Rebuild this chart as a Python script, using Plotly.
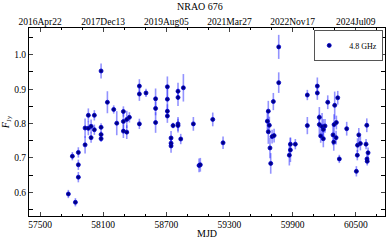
import plotly.graph_objects as go

mjd = [57769, 57807, 57836, 57864, 57864, 57864, 57928, 57928, 57959, 57959,
       57985, 57985, 58016, 58016, 58080, 58080, 58080, 58080, 58140, 58200,
       58229, 58292, 58292, 58292, 58324, 58324, 58349, 58444, 58444, 58444,
       58507, 58598, 58598, 58598, 58710, 58710, 58710, 58710, 58745, 58745,
       58745, 58764, 58811, 58811, 58811, 58811, 58837, 58862, 58957, 59011,
       59023, 59141, 59239, 59660, 59669, 59669, 59679, 59685, 59692, 59705,
       59717, 59724, 59768, 59768, 59869, 59879, 59879, 59926, 60040, 60040,
       60135, 60135, 60154, 60154, 60167, 60180, 60192, 60192, 60208, 60234,
       60284, 60291, 60294, 60300, 60313, 60316, 60329, 60344, 60414, 60506,
       60515, 60517, 60529, 60544, 60598, 60605, 60607, 60609, 60617]
flux = [0.595, 0.705, 0.571, 0.716, 0.680, 0.644, 0.738, 0.787, 0.824, 0.786,
        0.759, 0.792, 0.824, 0.782, 0.953, 0.789, 0.768, 0.756, 0.862, 0.841,
        0.801, 0.835, 0.806, 0.778, 0.812, 0.775, 0.818, 0.909, 0.886, 0.799,
        0.889, 0.872, 0.844, 0.803, 0.907, 0.871, 0.836, 0.822, 0.758, 0.743,
        0.735, 0.794, 0.894, 0.876, 0.799, 0.794, 0.755, 0.904, 0.799, 0.678,
        0.680, 0.812, 0.744, 0.807, 0.836, 0.776, 0.795, 0.729, 0.684, 0.762,
        0.864, 0.765, 1.023, 0.919, 0.708, 0.723, 0.740, 0.740, 0.883, 0.794,
        0.909, 0.889, 0.818, 0.797, 0.764, 0.791, 0.783, 0.756, 0.793, 0.862,
        0.767, 0.746, 0.797, 0.853, 0.759, 0.803, 0.875, 0.697, 0.785, 0.661,
        0.708, 0.737, 0.767, 0.742, 0.740, 0.795, 0.697, 0.690, 0.715]
err = [0.012, 0.012, 0.012, 0.015, 0.015, 0.015, 0.025, 0.028, 0.02, 0.02,
       0.015, 0.02, 0.015, 0.015, 0.022, 0.012, 0.01, 0.01, 0.032, 0.012,
       0.035, 0.015, 0.025, 0.02, 0.025, 0.02, 0.015, 0.02, 0.02, 0.015,
       0.012, 0.03, 0.02, 0.03, 0.03, 0.03, 0.02, 0.02, 0.02, 0.015,
       0.02, 0.008, 0.025, 0.025, 0.02, 0.02, 0.015, 0.04, 0.02, 0.02,
       0.02, 0.02, 0.018, 0.03, 0.03, 0.035, 0.025, 0.03, 0.03, 0.02,
       0.025, 0.02, 0.035, 0.03, 0.03, 0.035, 0.02, 0.015, 0.015, 0.025,
       0.025, 0.02, 0.03, 0.03, 0.02, 0.04, 0.03, 0.025, 0.02, 0.02,
       0.03, 0.025, 0.03, 0.04, 0.02, 0.02, 0.02, 0.012, 0.02, 0.015,
       0.015, 0.02, 0.02, 0.02, 0.015, 0.02, 0.012, 0.012, 0.015]

bottom_ticks = [57500, 58100, 58700, 59300, 59900, 60500]
bottom_labels = ["57500", "58100", "58700", "59300", "59900", "60500"]
top_labels = ["2016Apr22", "2017Dec13", "2019Aug05", "2021Mar27", "2022Nov17", "2024Jul09"]
y_ticks = [0.6, 0.7, 0.8, 0.9, 1.0]
y_labels = ["0.6", "0.7", "0.8", "0.9", "1.0"]

FONT = "Liberation Serif"
FS = 9.5
fig = go.Figure()
fig.add_trace(go.Scatter(
    x=mjd, y=flux, mode="markers", name="4.8 GHz",
    marker=dict(color="#000080", size=4, symbol="circle",
                line=dict(color="#0000cc", width=0.8)),
    error_y=dict(type="data", array=err, visible=True, color="rgba(40,40,255,0.5)",
                 thickness=1.6, width=0),
))
fig.add_trace(go.Scatter(x=[bottom_ticks[0]], y=[flux[0]], xaxis="x2", mode="markers",
                         marker=dict(opacity=0), showlegend=False, hoverinfo="skip"))

xr = [57395, 60778]
fig.update_layout(
    width=389, height=240,
    margin=dict(l=29, r=4, t=28, b=24),
    paper_bgcolor="white", plot_bgcolor="white",
    font=dict(family=FONT, size=FS, color="black"),
    showlegend=True,
    legend=dict(x=0.995, y=0.99, xanchor="right", yanchor="top",
                bordercolor="#555", borderwidth=1, bgcolor="white",
                font=dict(family=FONT, size=8), itemwidth=30,
                tracegroupgap=0, indentation=-6),
    xaxis=dict(range=xr, tickvals=bottom_ticks, ticktext=bottom_labels,
               ticks="inside", ticklen=4,
               showline=True, linecolor="black", linewidth=1, mirror="allticks",
               showgrid=False, zeroline=False,
               minor=dict(ticks="inside", dtick=200, tick0=57500, ticklen=2, tickcolor="black"),
               tickfont=dict(family=FONT, size=FS)),
    xaxis2=dict(range=xr, overlaying="x", side="top", tickvals=bottom_ticks,
                ticktext=top_labels, ticks="", showgrid=False, zeroline=False,
                showline=False, tickfont=dict(family=FONT, size=FS)),
    yaxis=dict(range=[0.531, 1.078], tickvals=y_ticks, ticktext=y_labels,
               ticks="inside", ticklen=4, showline=True, linecolor="black", linewidth=1,
               mirror="allticks", showgrid=False, zeroline=False,
               minor=dict(ticks="inside", dtick=0.05, tick0=0.6, ticklen=2, tickcolor="black"),
               title=dict(text="<i>F</i><sub>Jy</sub>", font=dict(family=FONT, size=10), standoff=2),
               tickfont=dict(family=FONT, size=FS)),
    annotations=[
        dict(text="NRAO 676", x=0.48, y=1.0, xref="paper", yref="paper",
             xanchor="center", yanchor="bottom", yshift=14, showarrow=False,
             font=dict(family=FONT, size=10)),
        dict(text="MJD", x=0.5, y=0.0, xref="paper", yref="paper",
             xanchor="center", yanchor="top", yshift=-10, showarrow=False,
             font=dict(family=FONT, size=10)),
    ],
)
fig.write_html("out.html", config={"displayModeBar": False},
               post_script="document.body.style.margin='0px';")
